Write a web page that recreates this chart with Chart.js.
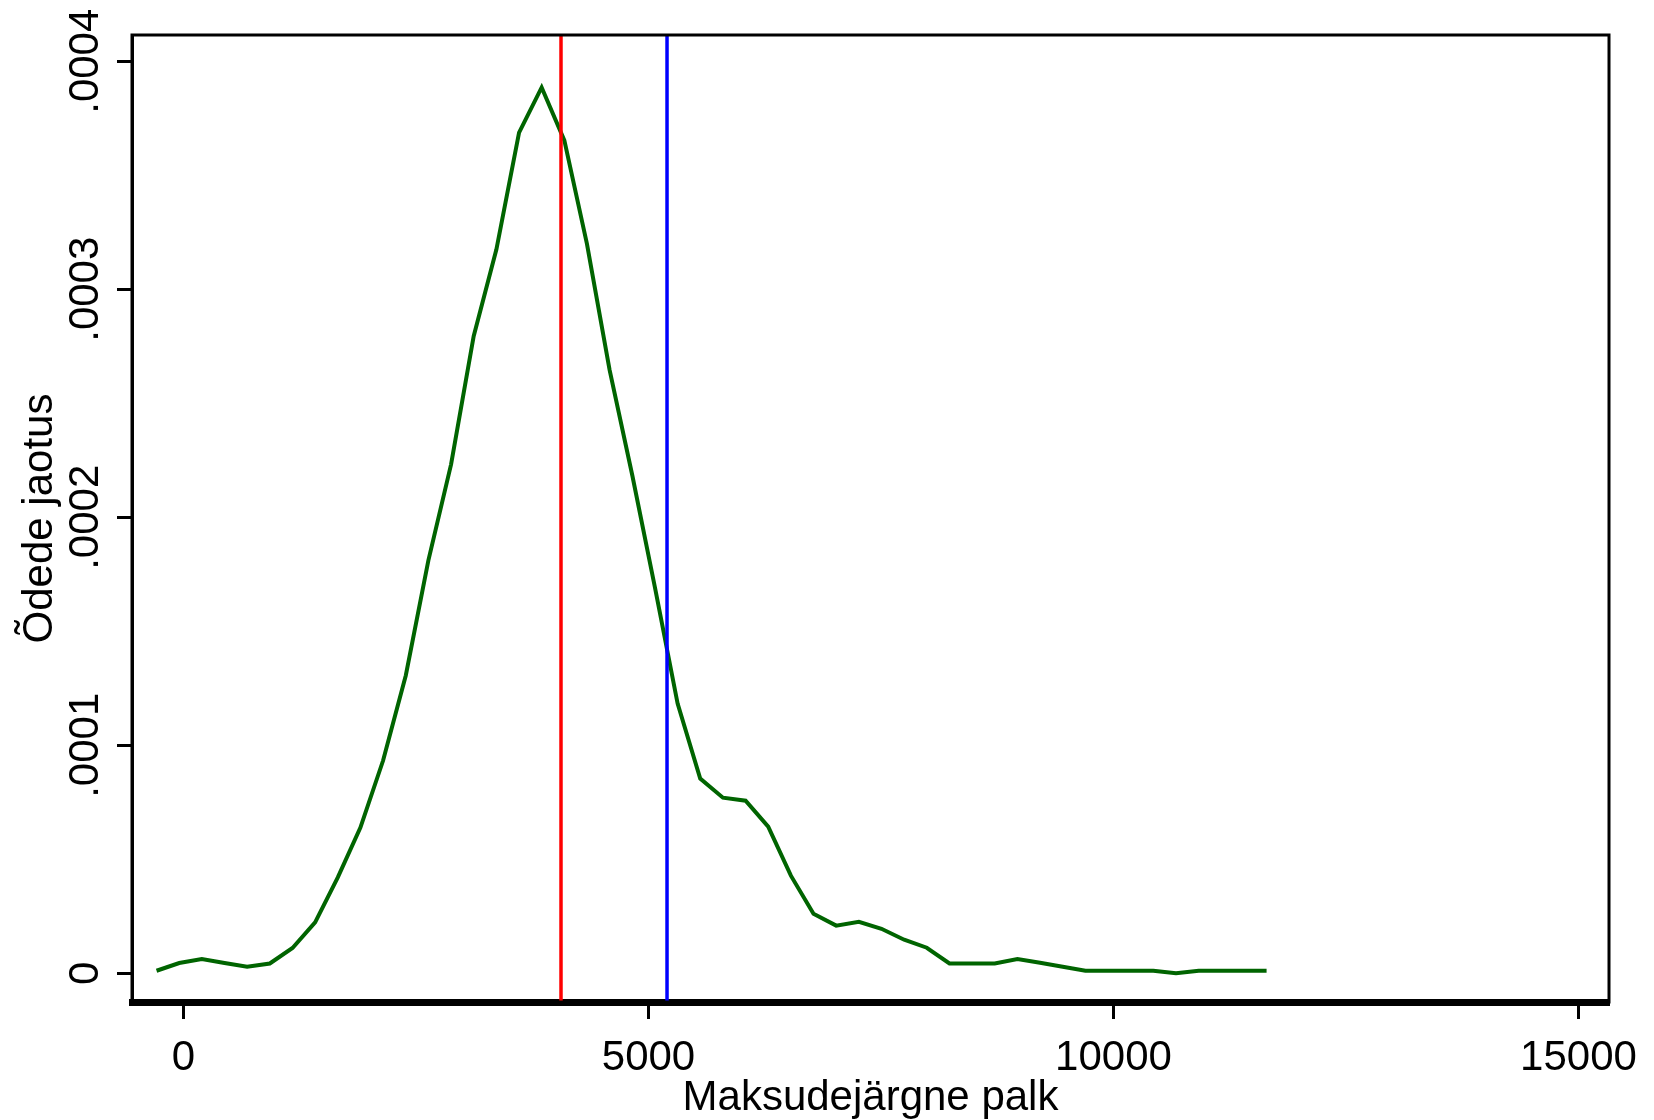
<!DOCTYPE html>
<html>
<head>
<meta charset="utf-8">
<script src="https://cdn.jsdelivr.net/npm/chart.js@4.4.1/dist/chart.umd.min.js"></script>
<style>
  body { margin: 0; background: #fff; }
  #wrap { width: 1654px; height: 1120px; }
</style>
</head>
<body>
<div id="wrap"><canvas id="myChart" width="1654" height="1120"></canvas></div>
<script>
// density curve
const palk = [-290, -46, 197, 441, 684, 928, 1172, 1415, 1659, 1902,
  2146, 2390, 2633, 2877, 3120, 3364, 3608, 3851, 4095, 4338,
  4582, 4826, 5069, 5313, 5556, 5800, 6044, 6287, 6531, 6774,
  7018, 7262, 7505, 7749, 7992, 8236, 8480, 8723, 8967, 9210,
  9454, 9698, 9941, 10185, 10428, 10672, 10916, 11159, 11403, 11646];
const jaotus = [0.0000011, 0.0000045, 0.0000062, 0.0000045, 0.0000029, 0.0000043, 0.0000111, 0.0000223, 0.0000421, 0.0000639,
  0.0000933, 0.0001306, 0.0001811, 0.0002232, 0.0002794, 0.0003174, 0.0003687, 0.0003885, 0.0003653, 0.0003199,
  0.0002645, 0.0002183, 0.0001692, 0.0001183, 0.0000854, 0.0000770, 0.0000757, 0.0000643, 0.0000428, 0.0000261,
  0.0000209, 0.0000226, 0.0000195, 0.0000147, 0.0000112, 0.0000043, 0.0000043, 0.0000043, 0.0000062, 0.0000046,
  0.0000029, 0.0000011, 0.0000011, 0.0000011, 0.0000011, 0.0000000, 0.0000011, 0.0000011, 0.0000011, 0.0000011];

// vertical reference lines (red, blue)
const jooned = [4059, 5199];
const jooneVarvid = ['#ff0000', '#0000ff'];

// axes
const xTicks = [0, 5000, 10000, 15000];
const xTickLabels = ['0', '5000', '10000', '15000'];
const yTicks = [0, 0.0001, 0.0002, 0.0003, 0.0004];
const yTickLabels = ['0', '.0001', '.0002', '.0003', '.0004'];
const xMin = -554, xMax = 15328;
const yMin = -0.0000126, yMax = 0.0004115;

const fnt = 'Liberation Sans, Arial, sans-serif';

const datasets = jooned.map((v, i) => ({
  data: [{x: v, y: yMin}, {x: v, y: yMax}],
  borderColor: jooneVarvid[i],
  borderWidth: 3.5,
  showLine: true,
  pointRadius: 0,
  order: 1
}));
datasets.push({
  data: palk.map((p, i) => ({x: p, y: jaotus[i]})),
  borderColor: '#006400',
  borderWidth: 4,
  showLine: true,
  pointRadius: 0,
  order: 2
});

const boxPlugin = {
  id: 'box',
  afterDraw(chart) {
    const {ctx, chartArea: a} = chart;
    ctx.save();
    ctx.strokeStyle = '#000';
    ctx.lineWidth = 3;
    ctx.strokeRect(a.left, a.top, a.right - a.left, a.bottom - a.top);
    ctx.restore();
  }
};

const config = {
  type: 'scatter',
  data: {datasets: datasets},
  options: {
    responsive: false,
    animation: false,
    layout: {padding: {top: 35, right: 45, bottom: 0, left: 0}},
    plugins: {legend: {display: false}, tooltip: {enabled: false}},
    scales: {
      x: {
        type: 'linear',
        min: xMin,
        max: xMax,
        afterFit: s => { s.height = 118; s.paddingLeft = 0; s.paddingRight = 0; },
        afterBuildTicks: s => { s.ticks = xTicks.map(v => ({value: v})); },
        grid: {drawOnChartArea: false, drawTicks: true, tickLength: 17, tickWidth: 3, color: '#000'},
        border: {display: true, color: '#000', width: 7},
        ticks: {
          color: '#000',
          font: {family: fnt, size: 42},
          padding: 14,
          maxRotation: 0,
          callback: (v) => xTickLabels[xTicks.indexOf(v)]
        },
        title: {
          display: true,
          text: 'Maksudejärgne palk',
          color: '#000',
          font: {family: fnt, size: 42, lineHeight: 1},
          padding: {top: 0, bottom: 1}
        }
      },
      y: {
        type: 'linear',
        min: yMin,
        max: yMax,
        afterFit: s => { s.width = 132; },
        afterBuildTicks: s => { s.ticks = yTicks.map(v => ({value: v})); },
        grid: {drawOnChartArea: false, drawTicks: true, tickLength: 15, tickWidth: 3, color: '#000'},
        border: {display: true, color: '#000', width: 3},
        ticks: {
          color: '#000',
          font: {family: fnt, size: 42},
          minRotation: 90,
          maxRotation: 90,
          crossAlign: 'center',
          padding: -22,
          callback: (v) => yTickLabels[yTicks.indexOf(v)]
        },
        title: {
          display: true,
          text: 'Õdede jaotus',
          color: '#000',
          font: {family: fnt, size: 42, lineHeight: 1},
          padding: {top: 19, bottom: 0}
        }
      }
    }
  },
  plugins: [boxPlugin]
};

const myChart = new Chart(document.getElementById('myChart'), config);
</script>
</body>
</html>
